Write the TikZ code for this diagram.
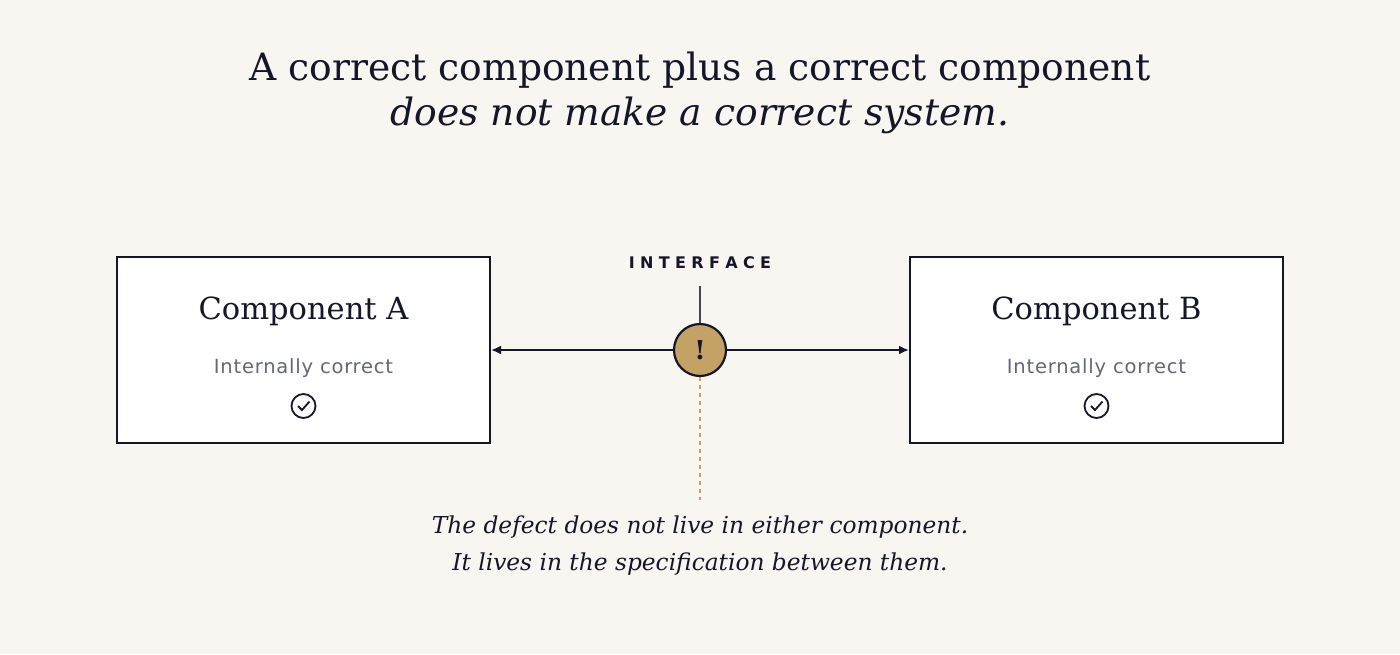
\documentclass[tikz,border=0pt]{standalone}
\usepackage{fontspec}
\setmainfont{DejaVu Serif}
\newfontfamily\dsans[LetterSpace=4]{DejaVu Sans}
\newfontfamily\dsansb{DejaVu Sans}
\usetikzlibrary{arrows.meta}
\definecolor{bg}{HTML}{F8F6F1}
\definecolor{ink}{HTML}{16162A}
\definecolor{gold}{HTML}{C4A265}
\definecolor{muted}{HTML}{66667A}
\tikzset{
 comp/.style={draw=ink,line width=2pt,fill=white,minimum width=373pt,minimum height=186pt,inner sep=0pt},
 ctitle/.style={text=ink,font=\fontsize{30.5}{36}\selectfont},
 csub/.style={text=muted,font=\dsans\fontsize{19.5}{22}\selectfont},
 conn/.style={draw=ink,line width=2pt,-{Latex[length=10pt,width=9pt]}},
 okmark/.style={draw=ink,line width=1.8pt,circle,minimum size=24pt,inner sep=0pt},
}
\begin{document}
\begin{tikzpicture}[x=1pt,y=-1pt]
\fill[bg] (0,0) rectangle (1400,654);
\useasboundingbox (0,0) rectangle (1400,654);
\node[text=ink,font=\fontsize{37.6}{44}\selectfont] (t1) at (700,70) {A correct component plus a correct component};
\node[text=ink,font=\itshape\fontsize{37.6}{44}\selectfont] (t2) at (700,115) {does not make a correct system.};
\node[comp] (A) at (303.5,350) {};
\node[comp] (B) at (1096.5,350) {};
\node[ctitle] (At) at (303.5,311) {Component A};
\node[csub] (As) at (303.5,368) {Internally correct};
\node[okmark] (Ac) at (303.5,406) {};
\draw[ink,line width=1.8pt] ([shift={(-5.5,0)}]Ac.center) -- ([shift={(-1.5,4)}]Ac.center) -- ([shift={(6,-4.5)}]Ac.center);
\node[ctitle] (Bt) at (1096.5,311) {Component B};
\node[csub] (Bs) at (1096.5,368) {Internally correct};
\node[okmark] (Bc) at (1096.5,406) {};
\draw[ink,line width=1.8pt] ([shift={(-5.5,0)}]Bc.center) -- ([shift={(-1.5,4)}]Bc.center) -- ([shift={(6,-4.5)}]Bc.center);
\node[circle,draw=ink,line width=2.2pt,fill=gold,minimum size=52pt,inner sep=0pt,text=ink,font=\bfseries\fontsize{26}{30}\selectfont] (X) at (700,350) {!};
\draw[conn] (X) -- (A);
\draw[conn] (X) -- (B);
\node[text=ink,font=\dsansb\bfseries\fontsize{16}{18}\selectfont] (I) at (700,263) {I\,\,N\,\,T\,\,E\,\,R\,\,F\,\,A\,\,C\,\,E};
\coordinate (Itop) at (700,286);
\draw[ink!80,line width=1.5pt] (Itop) -- (X.north);
\coordinate (Dend) at (700,500);
\draw[gold,line width=1.6pt,dash pattern=on 4pt off 4pt] (X.south) -- (Dend);
\node[text=ink,font=\itshape\fontsize{23.3}{26}\selectfont] (L1) at (700,527) {The defect does not live in either component.};
\node[text=ink,font=\itshape\fontsize{23.3}{26}\selectfont] (L2) at (700,564) {It lives in the specification between them.};
\end{tikzpicture}
\end{document}
